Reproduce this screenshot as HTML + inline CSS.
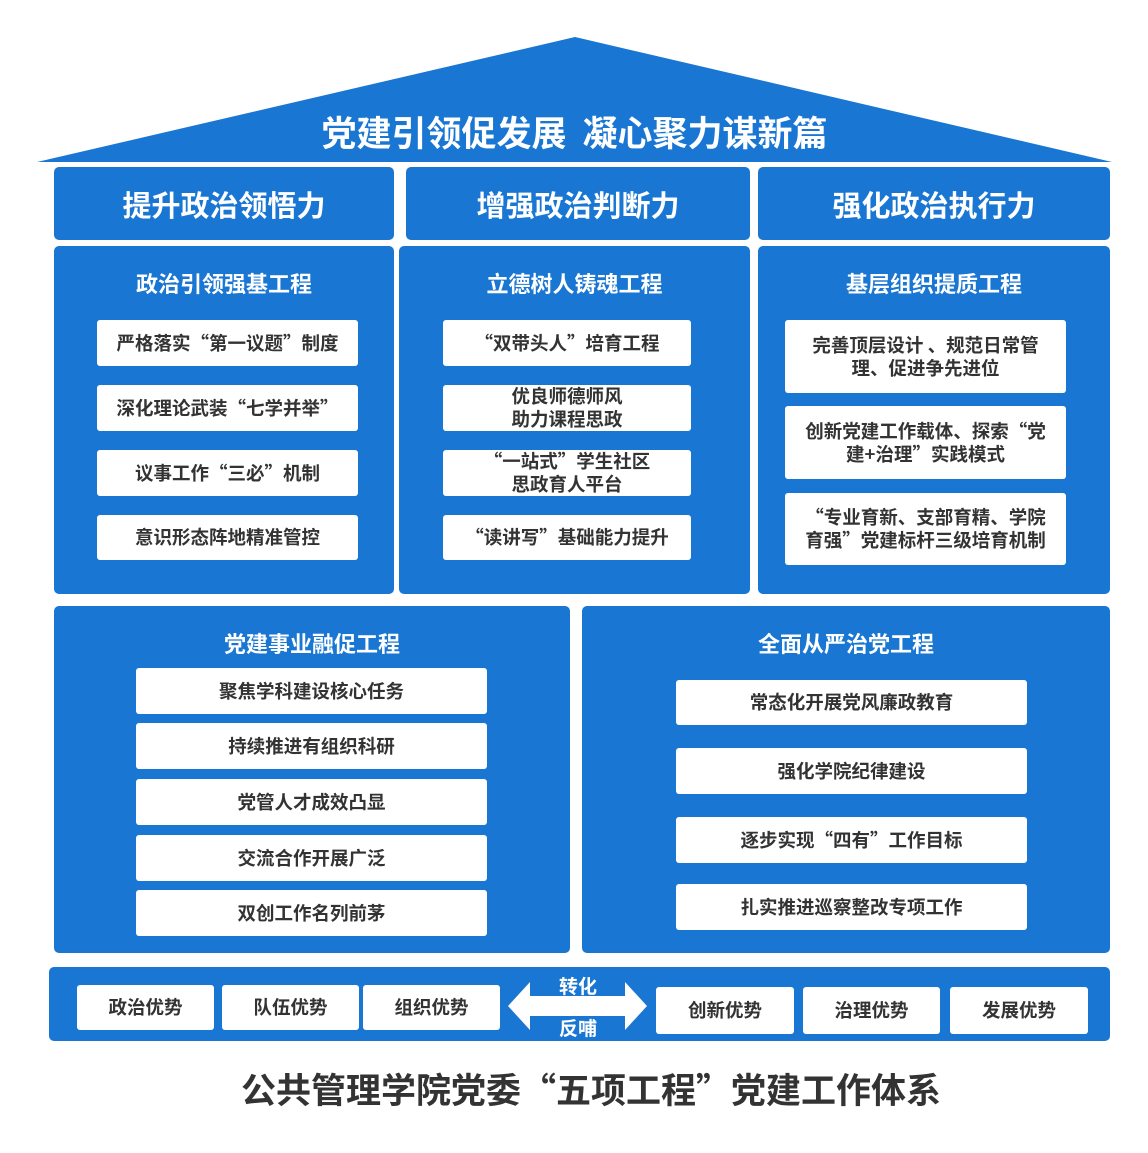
<!DOCTYPE html>
<html><head><meta charset="utf-8"><style>
body{margin:0;width:1148px;height:1153px;background:#fff;position:relative;overflow:hidden;font-family:"Noto Sans CJK SC","Liberation Sans",sans-serif;font-weight:bold}
.b{position:absolute;background:#1976d2;border-radius:5px}
.w{position:absolute;background:#fff;border-radius:3px;color:#333;font-size:18.5px;display:flex;align-items:center;justify-content:center;text-align:center;line-height:23px}
.t{position:absolute;color:#fff;text-align:center;display:flex;align-items:center;justify-content:center}
</style></head><body>
<svg style="position:absolute;left:0;top:0" width="1148" height="170"><polygon points="37,162 575,37 1112,162" fill="#1976d2"/></svg>
<div class="t" style="left:37px;width:1075px;top:106px;height:50px;font-size:35px;white-space:pre">党建引领促发展  凝心聚力谋新篇</div>

<div class="b t" style="left:54px;top:167px;width:340px;height:73px;font-size:29px">提升政治领悟力</div>
<div class="b t" style="left:406px;top:167px;width:344px;height:73px;font-size:29px">增强政治判断力</div>
<div class="b t" style="left:758px;top:167px;width:352px;height:73px;font-size:29px">强化政治执行力</div>

<div class="b" style="left:54px;top:246px;width:340px;height:348px"></div>
<div class="b" style="left:399px;top:246px;width:351px;height:348px"></div>
<div class="b" style="left:758px;top:246px;width:352px;height:348px"></div>
<div class="t" style="left:54px;width:340px;top:265px;height:36px;font-size:22px">政治引领强基工程</div>
<div class="t" style="left:399px;width:351px;top:265px;height:36px;font-size:22px">立德树人铸魂工程</div>
<div class="t" style="left:758px;width:352px;top:265px;height:36px;font-size:22px">基层组织提质工程</div>

<div class="w" style="left:97px;top:320px;width:261px;height:46px">严格落实“第一议题”制度</div>
<div class="w" style="left:97px;top:385px;width:261px;height:46px">深化理论武装“七学并举”</div>
<div class="w" style="left:97px;top:450px;width:261px;height:46px">议事工作“三必”机制</div>
<div class="w" style="left:97px;top:515px;width:261px;height:45px">意识形态阵地精准管控</div>

<div class="w" style="left:443px;top:320px;width:248px;height:46px">“双带头人”培育工程</div>
<div class="w" style="left:443px;top:385px;width:248px;height:46px">优良师德师风<br>助力课程思政</div>
<div class="w" style="left:443px;top:450px;width:248px;height:46px">“一站式”学生社区<br>思政育人平台</div>
<div class="w" style="left:443px;top:515px;width:248px;height:45px">“读讲写”基础能力提升</div>

<div class="w" style="left:785px;top:320px;width:281px;height:73px">完善顶层设计 、规范日常管<br>理、促进争先进位</div>
<div class="w" style="left:785px;top:406px;width:281px;height:73px">创新党建工作载体、探索“党<br>建+治理”实践模式</div>
<div class="w" style="left:785px;top:493px;width:281px;height:72px">“专业育新、支部育精、学院<br>育强”党建标杆三级培育机制</div>

<div class="b" style="left:54px;top:606px;width:516px;height:347px"></div>
<div class="b" style="left:582px;top:606px;width:528px;height:347px"></div>
<div class="t" style="left:54px;width:516px;top:625px;height:36px;font-size:22px">党建事业融促工程</div>
<div class="t" style="left:582px;width:528px;top:625px;height:36px;font-size:22px">全面从严治党工程</div>

<div class="w" style="left:136px;top:668px;width:351px;height:46px">聚焦学科建设核心任务</div>
<div class="w" style="left:136px;top:723px;width:351px;height:46px">持续推进有组织科研</div>
<div class="w" style="left:136px;top:779px;width:351px;height:46px">党管人才成效凸显</div>
<div class="w" style="left:136px;top:835px;width:351px;height:46px">交流合作开展广泛</div>
<div class="w" style="left:136px;top:890px;width:351px;height:46px">双创工作名列前茅</div>

<div class="w" style="left:676px;top:680px;width:351px;height:45px">常态化开展党风廉政教育</div>
<div class="w" style="left:676px;top:748px;width:351px;height:46px">强化学院纪律建设</div>
<div class="w" style="left:676px;top:817px;width:351px;height:46px">逐步实现“四有”工作目标</div>
<div class="w" style="left:676px;top:884px;width:351px;height:46px">扎实推进巡察整改专项工作</div>

<div class="b" style="left:49px;top:967px;width:1061px;height:74px"></div>
<div class="w" style="left:77px;top:985px;width:137px;height:45px">政治优势</div>
<div class="w" style="left:222px;top:985px;width:137px;height:45px">队伍优势</div>
<div class="w" style="left:363px;top:985px;width:137px;height:45px">组织优势</div>
<div class="w" style="left:656px;top:987px;width:138px;height:47px">创新优势</div>
<div class="w" style="left:803px;top:987px;width:137px;height:47px">治理优势</div>
<div class="w" style="left:950px;top:987px;width:138px;height:47px">发展优势</div>
<svg style="position:absolute;left:505px;top:980px" width="145" height="52"><polygon points="3,26 25,2 25,16 120,16 120,2 142,26 120,50 120,36 25,36 25,50" fill="#fff"/></svg>
<div class="t" style="left:540px;width:76px;top:972px;height:26px;font-size:19px">转化</div>
<div class="t" style="left:540px;width:76px;top:1014px;height:26px;font-size:19px">反哺</div>

<div class="t" style="left:0;width:1182px;top:1064px;height:48px;font-size:35px;color:#333">公共管理学院党委“五项工程”党建工作体系</div>
</body></html>
